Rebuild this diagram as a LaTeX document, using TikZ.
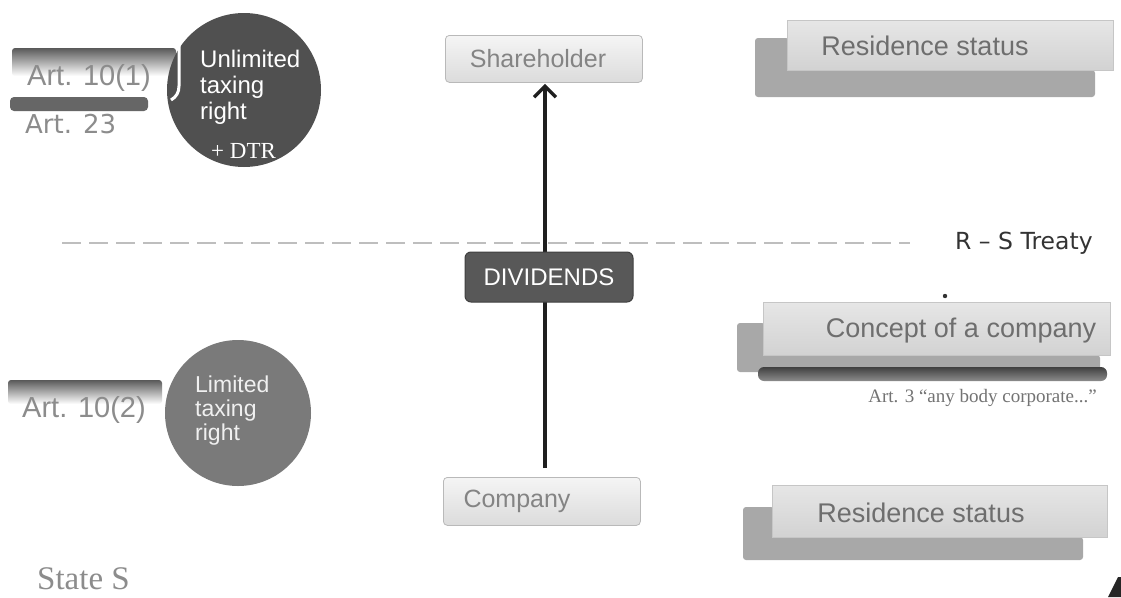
\documentclass[tikz,border=0pt]{standalone}
\usepackage{fontspec}
\setmainfont{Liberation Sans}
\newfontfamily\serifface{Liberation Serif}
\newfontfamily\dvface{DejaVu Sans}
\usetikzlibrary{arrows.meta}

\definecolor{boxtop}{HTML}{E6E6E6}
\definecolor{boxbottom}{HTML}{D2D2D2}
\definecolor{shadowgray}{HTML}{A8A8A8}
\definecolor{darkdisc}{HTML}{505050}
\definecolor{middisc}{HTML}{7A7A7A}
\definecolor{labelgray}{HTML}{8C8C8C}
\definecolor{boxtext}{HTML}{6E6E6E}
\definecolor{divfill}{HTML}{585858}
\definecolor{treatygray}{HTML}{BEBEBE}

\tikzset{
  resbox/.style={draw=gray!45, line width=0.6pt, top color=boxtop, bottom color=boxbottom,
                 inner sep=0pt, anchor=north west},
  restext/.style={text=boxtext, font=\fontsize{27}{30}\selectfont, inner sep=0pt},
  partybox/.style={draw=gray!55, line width=0.8pt, rounded corners=4pt, top color=gray!8,
                   bottom color=gray!28, inner sep=0pt, anchor=north west},
  partytext/.style={text=boxtext!85, font=\fontsize{25}{28}\selectfont, inner sep=0pt},
  divbox/.style={draw=black!75, line width=1pt, rounded corners=6pt, fill=divfill,
                 text=white, font=\fontsize{24}{27}\selectfont, minimum width=168pt,
                 minimum height=50pt, inner sep=0pt},
  flow/.style={line width=3.2pt, black!88, -{Straight Barb[length=11pt,width=22pt,line width=3.4pt]}},
  treaty/.style={treatygray, line width=1.2pt, dash pattern=on 19pt off 8pt},
  disc/.style={circle, inner sep=0pt},
  disctext/.style={anchor=base west, inner sep=0pt, font=\fontsize{24}{26}\selectfont},
  arttext/.style={anchor=base west, inner sep=0pt, text=labelgray, font=\fontsize{29}{32}\selectfont},
}

\begin{document}
\begin{tikzpicture}[x=1pt,y=-1pt]
\useasboundingbox (0,0) rectangle (1121,597);
\fill[white] (0,0) rectangle (1121,597);

% ---------- State R side: unlimited taxing right ----------
\shade[top color=black!65, bottom color=white, rounded corners=3pt] (12,48) rectangle (176,76);
\node[arttext] (art101) at (27,85) {Art. 10(1)};
\fill[black!60, rounded corners=4pt] (10,97) rectangle (148,111);
\node[anchor=base west, inner sep=0pt, text=labelgray, font=\dvface\fontsize{26}{29}\selectfont] (art23) at (25,133) {Art. 23};
\node[disc, fill=darkdisc, minimum size=154pt] (unlim) at (244,90) {};
\draw[white, line width=3pt] (179,46) -- (179,86) to[out=-90,in=30] (171,100);
\node[disctext, text=white] (unl1) at (200,67) {Unlimited};
\node[disctext, text=white] (unl2) at (200,93) {taxing};
\node[disctext, text=white] (unl3) at (200,119) {right};
\node[anchor=base west, inner sep=0pt, text=white, font=\serifface\fontsize{23}{26}\selectfont] (dtr) at (211,158) {+ DTR};

% ---------- State S side: limited taxing right ----------
\shade[top color=black!65, bottom color=white, rounded corners=3pt] (8,380) rectangle (162,404);
\node[arttext] (art102) at (22,417) {Art. 10(2)};
\node[disc, fill=middisc, minimum size=146pt] (lim) at (238,413) {};
\node[disctext, text=white!94!black, font=\fontsize{23}{25}\selectfont] (lim1) at (195,392) {Limited};
\node[disctext, text=white!94!black, font=\fontsize{23}{25}\selectfont] (lim2) at (195,416) {taxing};
\node[disctext, text=white!94!black, font=\fontsize{23}{25}\selectfont] (lim3) at (195,440) {right};

\node[anchor=base west, inner sep=0pt, text=labelgray, font=\serifface\fontsize{33}{36}\selectfont] (states) at (37,589) {State S};

% ---------- treaty line ----------
\coordinate (tl) at (62,243);
\coordinate (tr) at (910,243);
\draw[treaty] (tl) -- (tr);
\node[anchor=west, inner sep=0pt, text=black!80, font=\dvface\fontsize{23.5}{26}\selectfont] (treatyname) at (955,243) {R – S Treaty};

% ---------- dividend flow ----------
\node[partybox, minimum width=197pt, minimum height=47pt] (share) at (445,35) {};
\node[partytext] (sharet) at (538,59) {Shareholder};
\node[partybox, minimum width=197pt, minimum height=48pt] (comp) at (443,477) {};
\node[partytext] (compt) at (517,501) {Company};
\coordinate (axis) at (545,0);
\draw[flow, shorten <=9pt, shorten >=1pt] (comp.north -| axis) -- (share.south -| axis);
\node[divbox] (div) at (549,277) {DIVIDENDS};

% ---------- residence status (top) ----------
\fill[shadowgray, rounded corners=3pt] (755,38) -- (789,38) -- (789,70) -- (1095,70) -- (1095,97) -- (755,97) -- cycle;
\node[resbox, minimum width=326pt, minimum height=50pt] (resR) at (787,20) {};
\node[restext] (resRt) at (925,46) {Residence status};

% ---------- concept of a company ----------
\fill[shadowgray, rounded corners=3pt] (737,323) -- (765,323) -- (765,355) -- (1100,355) -- (1100,372) -- (737,372) -- cycle;
\node[resbox, minimum width=347pt, minimum height=53pt] (concept) at (763,302) {};
\node[restext] (conceptt) at (961,331) {Concept of a company};
\fill[black!80] (945,296) circle (2.2pt);
\shade[top color=black!75, bottom color=black!45, rounded corners=6pt] (758,367) rectangle (1107,381);
\node[anchor=base east, inner sep=0pt, text=black!55, font=\serifface\fontsize{19}{22}\selectfont] (art3) at (1097,402) {Art. 3 “any body corporate...”};

% ---------- residence status (bottom) ----------
\fill[shadowgray, rounded corners=3pt] (743,507) -- (774,507) -- (774,537) -- (1083,537) -- (1083,560) -- (743,560) -- cycle;
\node[resbox, minimum width=335pt, minimum height=52pt] (resS) at (772,485) {};
\node[restext] (resSt) at (921,513) {Residence status};

% ---------- corner mark ----------
\fill[black!85] (1108,597) -- (1118,577) -- (1121,577) -- (1121,597) -- cycle;
\end{tikzpicture}
\end{document}
